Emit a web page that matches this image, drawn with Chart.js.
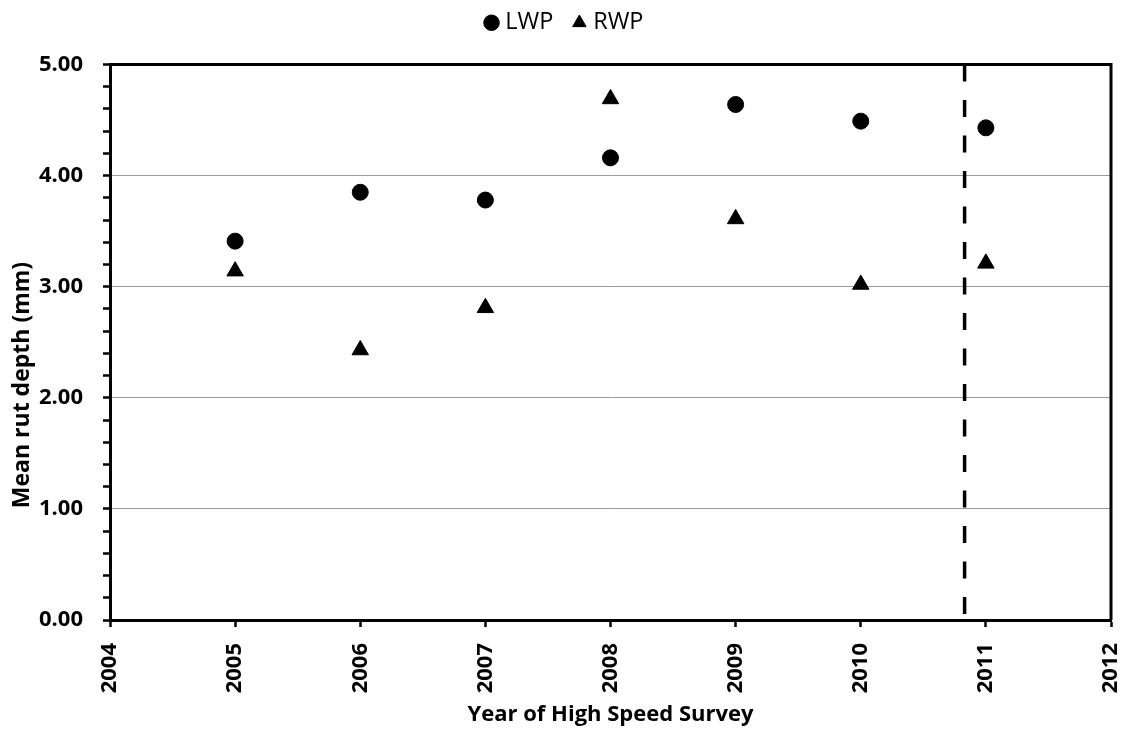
<!DOCTYPE html>
<html>
<head>
<meta charset="utf-8">
<script src="https://cdn.jsdelivr.net/npm/chart.js@4/dist/chart.umd.min.js"></script>
<style>
  html, body { margin: 0; padding: 0; background: #fff; }
  #wrap { width: 1127px; height: 731px; }
</style>
</head>
<body>
<div id="wrap"><canvas id="c" width="1127" height="731"></canvas></div>
<script>
// Survey years and mean rut depths (mm) in the left and right wheel paths
const years = [2005, 2006, 2007, 2008, 2009, 2010, 2011];
const lwp = [3.41, 3.85, 3.78, 4.16, 4.64, 4.49, 4.43];
const rwp = [3.14, 2.43, 2.81, 4.69, 3.61, 3.02, 3.21];

// Marker line separating the last survey
const cutoffYear = 2010.83;

// Axis ranges
const xRange = [2004, 2012];
const yRange = [0, 5];

const FONT = "'Open Sans', 'DejaVu Sans', sans-serif";

const toPoints = (xs, ys) => xs.map((x, i) => ({ x: x, y: ys[i] }));

// Legend box gets extra room below it and its row is nudged right
const legendSpacing = {
  id: 'legendSpacing',
  beforeLayout(chart) {
    const lg = chart.legend;
    if (lg && !lg._spaced) {
      const fit = lg.fit;
      lg.fit = function () {
        fit.call(this);
        this.height += 20;
        if (this.lineWidths && this.lineWidths.length) this.lineWidths[0] -= 22;
      };
      lg._spaced = true;
    }
  }
};

// Closes the frame on the top and right sides and draws the rotated y title
const framePlugin = {
  id: 'frame',
  afterDatasetsDraw(chart) {
    const { ctx, chartArea: a } = chart;
    ctx.save();
    ctx.strokeStyle = '#000';
    ctx.lineWidth = 3;
    ctx.beginPath();
    ctx.moveTo(a.left, a.top);
    ctx.lineTo(a.right, a.top);
    ctx.lineTo(a.right, a.bottom);
    ctx.stroke();
    ctx.restore();
  },
  afterDraw(chart) {
    const { ctx } = chart;
    ctx.save();
    ctx.translate(22, 385);
    ctx.rotate(-Math.PI / 2);
    ctx.font = "bold 23px " + FONT;
    ctx.fillStyle = '#000';
    ctx.textAlign = 'center';
    ctx.textBaseline = 'middle';
    ctx.fillText('Mean rut depth (mm)', 0, 0);
    ctx.restore();
  }
};

new Chart(document.getElementById('c'), {
  type: 'scatter',
  data: {
    datasets: [
      {
        label: 'LWP',
        data: toPoints(years, lwp),
        pointStyle: 'circle',
        pointRadius: 8,
        pointHoverRadius: 8,
        backgroundColor: '#000',
        borderColor: '#000',
        borderWidth: 1,
        order: 1
      },
      {
        label: 'RWP',
        data: toPoints(years, rwp),
        pointStyle: 'triangle',
        pointRadius: 9.5,
        pointHoverRadius: 9.5,
        backgroundColor: '#000',
        borderColor: '#000',
        borderWidth: 1,
        order: 2
      },
      {
        label: 'cutoff',
        data: [{ x: cutoffYear, y: yRange[1] }, { x: cutoffYear, y: yRange[0] }],
        showLine: true,
        pointRadius: 0,
        pointHoverRadius: 0,
        borderColor: '#000',
        borderWidth: 3.5,
        borderDash: [17, 18.5],
        fill: false,
        order: 3
      }
    ]
  },
  options: {
    responsive: false,
    animation: false,
    devicePixelRatio: 1,
    layout: { padding: { top: -13, right: 16, bottom: 0, left: 0 } },
    plugins: {
      tooltip: { enabled: false },
      legend: {
        display: true,
        position: 'top',
        align: 'center',
        labels: {
          usePointStyle: true,
          boxWidth: 4,
          boxHeight: 11,
          padding: 24,
          color: '#000',
          font: { family: FONT, size: 23.5 },
          filter: (item) => item.datasetIndex < 2
        }
      }
    },
    scales: {
      x: {
        type: 'linear',
        min: xRange[0],
        max: xRange[1],
        afterFit: (s) => { s.height = 111; s.paddingRight = 0; s.paddingLeft = 0; },
        border: { display: true, color: '#000', width: 3 },
        grid: {
          drawOnChartArea: false,
          drawTicks: true,
          tickLength: 7,
          tickWidth: 2.5,
          tickColor: '#000',
          color: 'rgba(0,0,0,0)'
        },
        ticks: {
          stepSize: 1,
          autoSkip: false,
          maxRotation: 90,
          minRotation: 90,
          padding: 16,
          color: '#000',
          font: { family: FONT, size: 22, weight: 'bold' },
          callback: (v) => String(v)
        },
        title: {
          display: true,
          text: 'Year of High Speed Survey',
          color: '#000',
          font: { family: FONT, size: 22, weight: 'bold' },
          padding: { top: 0, bottom: 3 }
        }
      },
      y: {
        type: 'linear',
        min: yRange[0],
        max: yRange[1],
        afterFit: (s) => { s.width = 110; },
        border: { display: true, color: '#000', width: 3 },
        grid: {
          drawOnChartArea: true,
          drawTicks: true,
          tickLength: 7,
          tickWidth: 2.5,
          tickColor: '#000',
          lineWidth: 1,
          color: (ctx) => {
            const v = ctx.tick ? ctx.tick.value : 0;
            const major = Math.abs(v - Math.round(v)) < 1e-6;
            return (major && v > yRange[0] && v < yRange[1]) ? '#9a9a9a' : 'rgba(0,0,0,0)';
          }
        },
        ticks: {
          stepSize: 0.2,
          autoSkip: false,
          padding: 20,
          color: '#000',
          font: { family: FONT, size: 22, weight: 'bold' },
          callback: (v) => (Math.abs(v - Math.round(v)) < 1e-6 ? Number(v).toFixed(2) : '')
        },
        title: { display: false }
      }
    }
  },
  plugins: [legendSpacing, framePlugin]
});
</script>
</body>
</html>
